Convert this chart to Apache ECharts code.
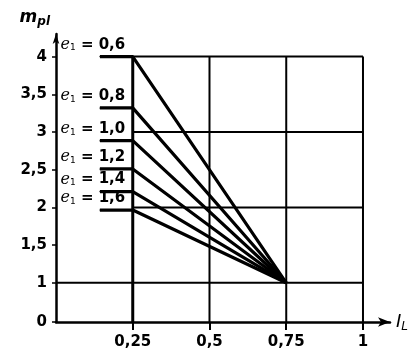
<!DOCTYPE html>
<html>
<head>
<meta charset="utf-8">
<script src="https://cdn.jsdelivr.net/npm/echarts@6/dist/echarts.min.js"></script>
<style>
    html, body { margin: 0; padding: 0; background: #fff; }
    #chart { width: 418px; height: 362px; }
</style>
</head>
<body>
<div id="chart"></div>
<script>
// e1 values and where each line starts on the m_pl axis at I_L = 0,25
const e1Labels = ['0,6', '0,8', '1,0', '1,2', '1,4', '1,6'];
const startValues = [4.0, 3.32, 2.885, 2.51, 2.21, 1.965];
const underlineFrom = 0.143;
const kneeX = 0.25;
const meetPoint = [0.75, 1];

// grid / axis
const gridXs = [0.25, 0.5, 0.75, 1];
const gridYs = [1, 2, 3, 4];
const xTicks = [0.25, 0.5, 0.75, 1];
const yBottom = 0.48;   // broken axis: bottom shown as "0"
const yTicks = [yBottom, 1, 1.5, 2, 2.5, 3, 3.5, 4];

const FONT = 'DejaVu Sans';

function comma(v) {
    return String(v).replace('.', ',');
}

let chart = echarts.init(document.getElementById('chart'));

let series = [];

// horizontal grid lines
gridYs.forEach(function (y) {
    series.push({
        type: 'line', silent: true, showSymbol: false,
        lineStyle: { color: '#000', width: 2 },
        data: [[y === 1 ? 0 : kneeX, y], [1, y]]
    });
});

// vertical grid lines
gridXs.forEach(function (x) {
    series.push({
        type: 'line', silent: true, showSymbol: false,
        lineStyle: { color: '#000', width: x === kneeX ? 3 : 2 },
        data: [[x, yBottom], [x, 4]]
    });
});

// e1 lines
startValues.forEach(function (v, i) {
    series.push({
        type: 'line', silent: true,
        symbol: 'circle', symbolSize: 1,
        itemStyle: { color: '#000' },
        lineStyle: { color: '#000', width: 3.2 },
        data: [
            [underlineFrom, v],
            {
                value: [kneeX, v],
                label: {
                    show: true,
                    position: 'left',
                    offset: [-2, -12],
                    formatter: '{e|e}{s|1}{v| = ' + e1Labels[i] + '}',
                    rich: {
                        e: { fontFamily: 'DejaVu Serif', fontStyle: 'italic', fontSize: 16, color: '#000' },
                        s: { fontFamily: FONT, fontSize: 9, color: '#000', verticalAlign: 'bottom', padding: [6, 0, 0, 0] },
                        v: { fontFamily: FONT, fontWeight: 'bold', fontSize: 15, color: '#000' }
                    }
                }
            },
            meetPoint
        ]
    });
});

let option = {
    animation: false,
    grid: { left: 56, right: 28, top: 34, bottom: 40 },
    xAxis: {
        type: 'value',
        min: 0,
        max: 1.088,
        name: '{i|I}{s|L}',
        nameLocation: 'end',
        nameGap: 6,
        nameTextStyle: {
            rich: {
                i: { fontFamily: FONT, fontStyle: 'italic', fontSize: 18, color: '#000' },
                s: { fontFamily: FONT, fontStyle: 'italic', fontSize: 12, color: '#000', verticalAlign: 'bottom', padding: [9, 0, 0, 0] }
            }
        },
        axisLine: {
            lineStyle: { color: '#000', width: 2.5 },
            symbol: ['none', 'arrow'],
            symbolSize: [7, 12]
        },
        axisTick: { customValues: xTicks, length: 8, lineStyle: { color: '#000', width: 2 } },
        axisLabel: {
            customValues: xTicks,
            formatter: comma,
            fontFamily: FONT, fontWeight: 'bold', fontSize: 15, color: '#000', margin: 13
        },
        splitLine: { show: false }
    },
    yAxis: {
        type: 'value',
        min: yBottom,
        max: 4.3,
        name: '{m|m}{s|pl}',
        nameLocation: 'end',
        nameGap: 6,
        nameTextStyle: {
            align: 'right',
            padding: [0, 6, 0, 0],
            rich: {
                m: { fontFamily: FONT, fontStyle: 'italic', fontWeight: 'bold', fontSize: 17, color: '#000' },
                s: { fontFamily: FONT, fontStyle: 'italic', fontWeight: 'bold', fontSize: 12, color: '#000', verticalAlign: 'bottom', padding: [9, 0, 0, 0] }
            }
        },
        axisLine: {
            show: true,
            lineStyle: { color: '#000', width: 2.5 },
            symbol: ['none', 'arrow'],
            symbolSize: [5, 10]
        },
        axisTick: { show: true, customValues: yTicks, length: 4, lineStyle: { color: '#000', width: 1.5 } },
        axisLabel: {
            customValues: yTicks,
            formatter: function (v) { return v === yBottom ? '0' : comma(v); },
            fontFamily: FONT, fontWeight: 'bold', fontSize: 15, color: '#000', margin: 9
        },
        splitLine: { show: false }
    },
    series: series
};

chart.setOption(option);
</script>
</body>
</html>
